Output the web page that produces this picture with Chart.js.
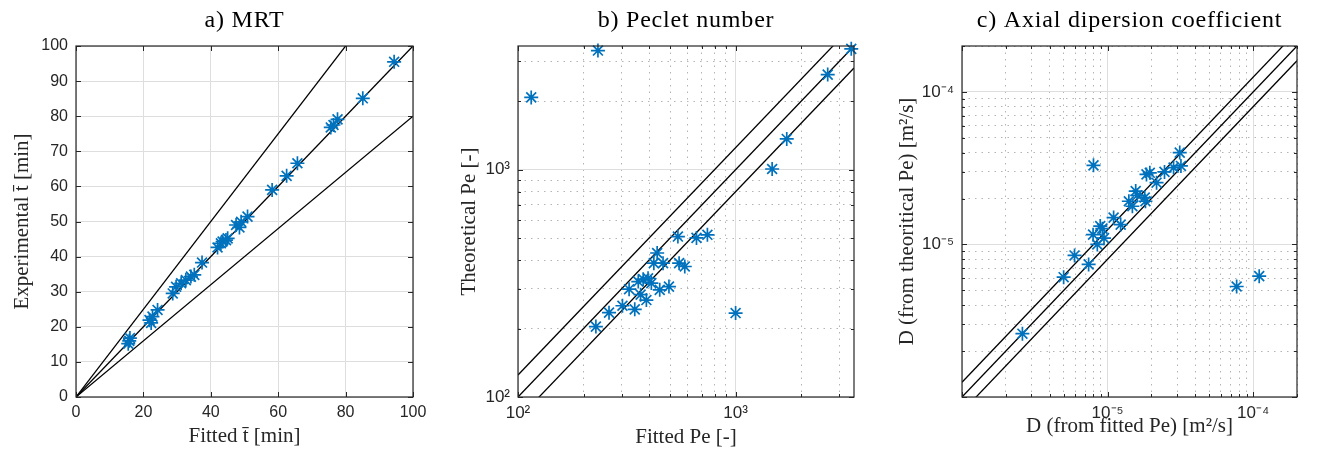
<!DOCTYPE html>
<html>
<head>
<meta charset="utf-8">
<script src="https://cdn.jsdelivr.net/npm/chart.js"></script>
<style>
  html, body { margin: 0; padding: 0; background: #fff; overflow: hidden; }
  canvas { position: absolute; left: 0; top: 0; }
</style>
</head>
<body>
<canvas id="chartA" width="1319" height="459"></canvas>
<canvas id="chartB" width="1319" height="459"></canvas>
<canvas id="chartC" width="1319" height="459"></canvas>
<script>
// a) mean residence time [min]
const mrtFitted =       [15.5, 15.8, 16.0, 21.8, 22.3, 22.7, 24.2, 28.7, 29.7, 31.2, 32.6, 34.1, 35.1, 37.4, 42.0, 43.0, 43.5, 44.5, 45.0, 47.5, 48.5, 49.0, 50.9, 58.2, 62.5, 65.7, 75.6, 76.4, 77.6, 85.1, 94.4];
const mrtExperimental = [15.2, 16.0, 16.8, 21.9, 21.1, 22.9, 24.8, 29.5, 31.4, 32.4, 33.3, 34.3, 34.8, 38.3, 42.6, 43.8, 44.3, 44.7, 45.2, 49.0, 48.3, 49.9, 51.4, 59.0, 63.0, 66.6, 76.8, 77.5, 79.1, 85.1, 95.5];

// b) Peclet number
const peFitted =      [115, 233, 3400, 2650, 1718, 1472, 1000, 228, 262, 302, 344, 324, 357, 376, 396, 410, 389, 366, 436, 421, 464, 448, 494, 550, 584, 543, 661, 742];
const peTheoretical = [2080, 3342, 3400, 2620, 1365, 1007, 234, 204, 235, 252, 243, 298, 322, 330, 333, 317, 267, 282, 430, 388, 388, 296, 306, 388, 375, 508, 501, 517];

// c) axial dispersion coefficient [m2/s]
const dFitted =      [2.6e-6, 4.99e-6, 5.93e-6, 7.41e-6, 8.0e-6, 7.95e-6, 8.9e-6, 9.2e-6, 8.5e-6, 9.45e-6, 1.1e-5, 1.23e-5, 1.4e-5, 1.48e-5, 1.56e-5, 1.6e-5, 1.8e-5, 1.82e-5, 1.85e-5, 1.95e-5, 2.17e-5, 2.46e-5, 2.84e-5, 3.13e-5, 3.19e-5, 7.7e-5, 1.1e-4];
const dTheoretical = [2.6e-6, 6.1e-6, 8.47e-6, 7.4e-6, 3.3e-5, 1.16e-5, 1.32e-5, 1.27e-5, 1.0e-5, 1.1e-5, 1.5e-5, 1.35e-5, 1.92e-5, 1.78e-5, 2.24e-5, 2.1e-5, 2.03e-5, 1.92e-5, 2.88e-5, 2.95e-5, 2.54e-5, 2.99e-5, 3.19e-5, 4.0e-5, 3.27e-5, 5.3e-6, 6.2e-6];

// reference lines y = k * x
const lineRatios = [0.8, 1, 1.25];
const mrtLineX = [0, 100];
const peLineX = [100, 3500];
const dLineX = [1e-6, 2e-4];

// ticks
const mrtXTicks = [0, 20, 40, 60, 80, 100];
const mrtYTicks = [0, 10, 20, 30, 40, 50, 60, 70, 80, 90, 100];
const peTicks = [100, 200, 300, 400, 500, 600, 700, 800, 900, 1000, 2000, 3000];
const peLabelValues = [100, 1000];
const peLabels = ['10²', '10³'];
const dTicks = [1e-6, 2e-6, 3e-6, 4e-6, 5e-6, 6e-6, 7e-6, 8e-6, 9e-6, 1e-5, 2e-5, 3e-5, 4e-5, 5e-5, 6e-5, 7e-5, 8e-5, 9e-5, 1e-4, 2e-4];
const dLabelValues = [1e-5, 1e-4];
const dLabels = ['10⁻⁵', '10⁻⁴'];

const BLUE = '#0072BD';
const AXIS = '#262626';
const LIN_TICK_FONT = { family: 'Liberation Sans, Arial, sans-serif', size: 16 };
const LOG_TICK_FONT = { family: 'Liberation Sans, Arial, sans-serif', size: 17 };
const LABEL_FONT = { family: 'Liberation Serif, Times New Roman, serif', size: 21 };

function isDecade(v) {
  const e = Math.log10(v);
  return Math.abs(e - Math.round(e)) < 1e-6;
}

function labelFor(values, labels) {
  return function(v) {
    const i = values.findIndex(x => Math.abs(x - v) / x < 1e-6);
    return i >= 0 ? labels[i] : '';
  };
}

// axes box, inward tick marks and the title above the plot
const boxPlugin = {
  id: 'box',
  afterDatasetsDraw(chart, args, opts) {
    const { ctx, chartArea: a, scales } = chart;
    ctx.save();
    ctx.strokeStyle = AXIS;
    ctx.lineWidth = 1;
    ctx.beginPath();
    for (const t of scales.x.ticks) {
      const p = Math.round(scales.x.getPixelForValue(t.value)) + 0.5;
      const len = opts.log && !isDecade(t.value) ? 3 : 5;
      ctx.moveTo(p, a.bottom); ctx.lineTo(p, a.bottom - len);
      ctx.moveTo(p, a.top); ctx.lineTo(p, a.top + len);
    }
    for (const t of scales.y.ticks) {
      const p = Math.round(scales.y.getPixelForValue(t.value)) + 0.5;
      const len = opts.log && !isDecade(t.value) ? 3 : 5;
      ctx.moveTo(a.left, p); ctx.lineTo(a.left + len, p);
      ctx.moveTo(a.right, p); ctx.lineTo(a.right - len, p);
    }
    ctx.stroke();
    ctx.lineWidth = 1.2;
    ctx.strokeRect(a.left, a.top, a.right - a.left, a.bottom - a.top);
    ctx.fillStyle = '#000';
    ctx.font = '24px "Liberation Serif", "Times New Roman", serif';
    ctx.letterSpacing = '0.8px';
    ctx.textAlign = 'center';
    ctx.textBaseline = 'middle';
    ctx.fillText(opts.title, (a.left + a.right) / 2, a.top - 25);
    ctx.restore();
  }
};

function makeChart(id, c) {
  const datasets = lineRatios.map(k => ({
    type: 'line',
    data: c.lineX.map(x => ({ x: x, y: k * x })),
    borderColor: '#000',
    borderWidth: 1.3,
    pointRadius: 0,
    fill: false,
    order: 2
  }));
  datasets.push({
    type: 'scatter',
    data: c.x.map((x, i) => ({ x: x, y: c.y[i] })),
    pointStyle: 'star',
    pointRadius: 7,
    borderColor: BLUE,
    backgroundColor: BLUE,
    pointBorderWidth: 1.7,
    clip: false,
    order: 1
  });

  const gridColor = ctx => (!c.log || (ctx.tick && isDecade(ctx.tick.value))) ? '#dedede' : '#b4b4b4';
  const gridDash = ctx => (c.log && ctx.tick && !isDecade(ctx.tick.value)) ? [1.5, 5] : [];

  function axis(min, max, ticks, label, titleText, isX) {
    return {
      type: c.log ? 'logarithmic' : 'linear',
      position: isX ? 'bottom' : 'left',
      min: min,
      max: max,
      afterBuildTicks: s => { s.ticks = ticks.map(v => ({ value: v, major: false })); },
      afterFit: s => { if (isX) s.height = c.xh; else s.width = c.yw; },
      grid: { color: gridColor, lineWidth: 1, drawTicks: false },
      border: { display: false, dash: gridDash },
      ticks: {
        autoSkip: false,
        maxRotation: 0,
        padding: isX ? 6 : 8,
        color: AXIS,
        font: c.log ? LOG_TICK_FONT : LIN_TICK_FONT,
        callback: label
      },
      title: {
        display: true,
        text: titleText,
        color: AXIS,
        font: LABEL_FONT,
        padding: 0
      }
    };
  }

  return new Chart(document.getElementById(id), {
    data: { datasets: datasets },
    plugins: [boxPlugin],
    options: {
      responsive: false,
      animation: false,
      events: [],
      layout: {
        padding: {
          left: c.left - c.yw,
          right: 1319 - c.right,
          top: 46,
          bottom: 459 - 397 - c.xh
        }
      },
      plugins: {
        legend: { display: false },
        tooltip: { enabled: false },
        box: { title: c.title, log: c.log }
      },
      scales: {
        x: axis(c.xmin, c.xmax, c.xTicks, c.xLabel, c.xTitle, true),
        y: axis(c.ymin, c.ymax, c.yTicks, c.yLabel, c.yTitle, false)
      }
    }
  });
}

makeChart('chartA', {
  title: 'a) MRT', log: false,
  left: 76, right: 413, yw: 66, xh: 52,
  x: mrtFitted, y: mrtExperimental, lineX: mrtLineX,
  xmin: 0, xmax: 100, ymin: 0, ymax: 100,
  xTicks: mrtXTicks, yTicks: mrtYTicks,
  xLabel: v => v, yLabel: v => v,
  xTitle: 'Fitted t̄ [min]', yTitle: 'Experimental t̄ [min]'
});

makeChart('chartB', {
  title: 'b) Peclet number', log: true,
  left: 518, right: 854, yw: 61, xh: 53,
  x: peFitted, y: peTheoretical, lineX: peLineX,
  xmin: 100, xmax: 3500, ymin: 100, ymax: 3500,
  xTicks: peTicks, yTicks: peTicks,
  xLabel: labelFor(peLabelValues, peLabels), yLabel: labelFor(peLabelValues, peLabels),
  xTitle: 'Fitted Pe [-]', yTitle: 'Theoretical Pe [-]'
});

makeChart('chartC', {
  title: 'c) Axial dipersion coefficient', log: true,
  left: 962, right: 1297, yw: 67, xh: 42,
  x: dFitted, y: dTheoretical, lineX: dLineX,
  xmin: 1e-6, xmax: 2e-4, ymin: 1e-6, ymax: 2e-4,
  xTicks: dTicks, yTicks: dTicks,
  xLabel: labelFor(dLabelValues, dLabels), yLabel: labelFor(dLabelValues, dLabels),
  xTitle: 'D (from fitted Pe) [m²/s]', yTitle: 'D (from theoritical Pe) [m²/s]'
});
</script>
</body>
</html>
